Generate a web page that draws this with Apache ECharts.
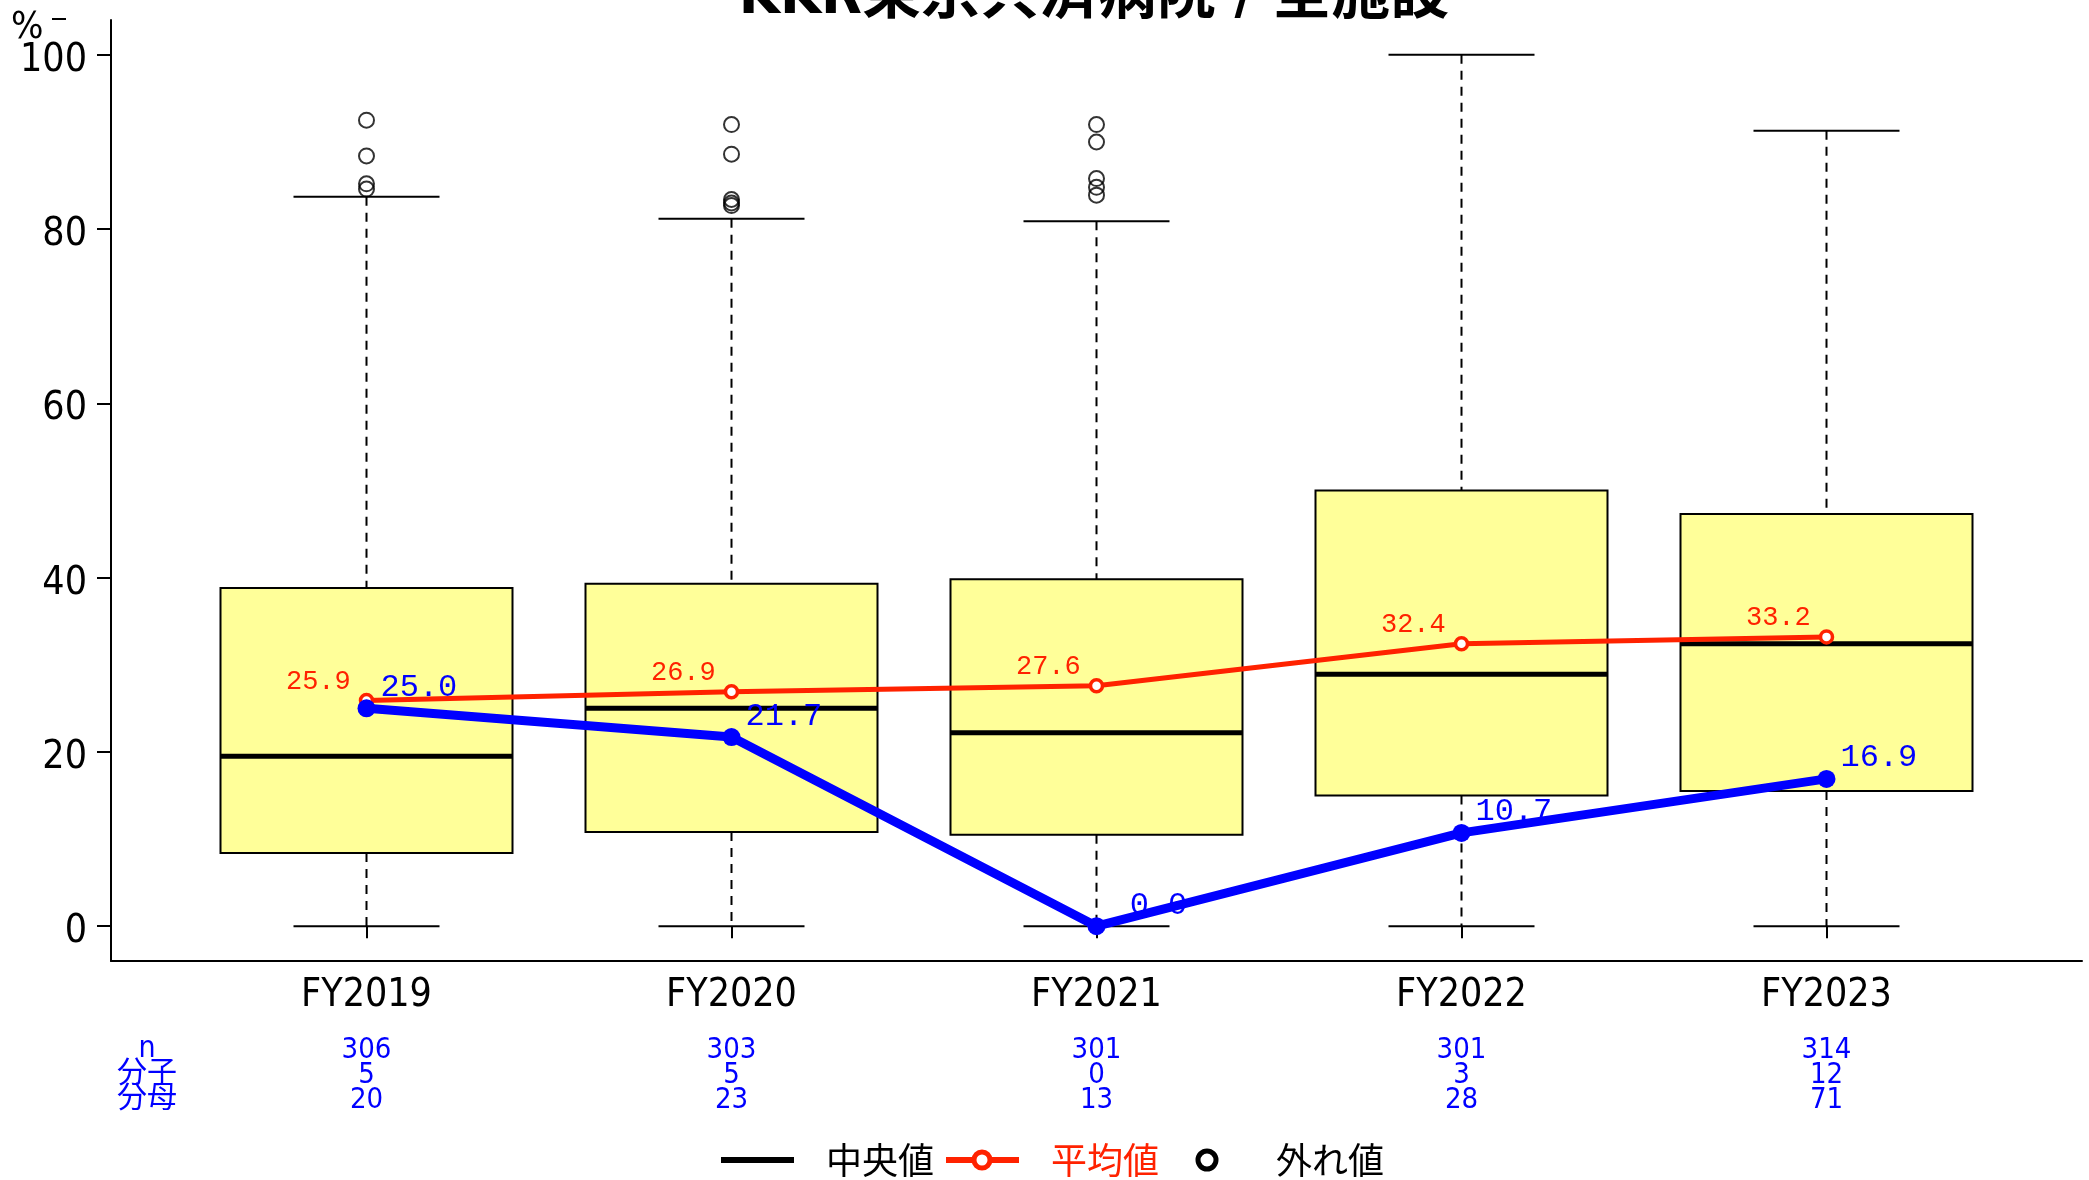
<!DOCTYPE html>
<html>
<head>
<meta charset="utf-8">
<script src="https://cdn.jsdelivr.net/npm/echarts@6/dist/echarts.min.js"></script>
<style>
html,body{margin:0;padding:0;background:#fff;}
#chart{width:2089px;height:1180px;}
</style>
</head>
<body>
<div id="chart"></div>
<script>
// ---- data ----
const categories = ['FY2019', 'FY2020', 'FY2021', 'FY2022', 'FY2023'];
const whiskerLow = [0, 0, 0, 0, 0];
const q1Values = [8.4, 10.8, 10.5, 15.0, 15.5];
const medianValues = [19.5, 25.0, 22.2, 28.9, 32.4];
const q3Values = [38.8, 39.3, 39.8, 50.0, 47.3];
const whiskerHigh = [83.7, 81.2, 80.9, 100, 91.3];
const outlierValues = [
  [92.5, 88.4, 85.2, 84.6],
  [92.0, 88.6, 83.4, 83.0, 82.7],
  [92.0, 90.0, 85.8, 84.8, 83.9],
  [],
  []
];
const meanValues = [25.9, 26.9, 27.6, 32.4, 33.2];
const rateValues = [25.0, 21.7, 0.0, 10.7, 16.9];
const nValues = [306, 303, 301, 301, 314];
const numeratorValues = [5, 5, 0, 3, 12];
const denominatorValues = [20, 23, 13, 28, 71];
const yTickValues = [0, 20, 40, 60, 80, 100];
const titleText = 'KKR東京共済病院 / 全施設';
const tableRowLabels = ['n', '分子', '分母'];
const legendLabels = ['中央値', '平均値', '外れ値'];

// ---- styles ----
const narrow = "'Liberation Sans Narrow','Arial Narrow','DejaVu Sans Condensed','Liberation Sans',sans-serif";
const cjk = "'Noto Sans CJK JP','Noto Sans CJK SC',sans-serif";
const mono = "'Liberation Mono','DejaVu Sans Mono',monospace";
const RED = '#FF2200';
const BLUE = '#0000FF';

const boxData = categories.map((c, i) => [i, whiskerLow[i], q1Values[i], medianValues[i], q3Values[i], whiskerHigh[i]]);
const outlierData = [];
outlierValues.forEach((arr, i) => arr.forEach(v => outlierData.push([i, v])));

const chart = echarts.init(document.getElementById('chart'), null, {renderer: 'canvas'});

function renderBox(params, api) {
  const i = api.value(0);
  const lo = api.coord([i, api.value(1)]);
  const b1 = api.coord([i, api.value(2)]);
  const md = api.coord([i, api.value(3)]);
  const b3 = api.coord([i, api.value(4)]);
  const hi = api.coord([i, api.value(5)]);
  const band = api.size([1, 0])[0];
  const bw = band * 0.8;
  const cw = bw / 2;
  const x = lo[0];
  const dash = {stroke: '#000', lineWidth: 2, lineDash: [9, 7]};
  const solid = {stroke: '#000', lineWidth: 2};
  return {
    type: 'group',
    children: [
      {type: 'line', shape: {x1: x, y1: hi[1], x2: x, y2: b3[1]}, style: dash},
      {type: 'line', shape: {x1: x, y1: b1[1], x2: x, y2: lo[1]}, style: dash},
      {type: 'line', shape: {x1: x - cw / 2, y1: hi[1], x2: x + cw / 2, y2: hi[1]}, style: solid},
      {type: 'line', shape: {x1: x - cw / 2, y1: lo[1], x2: x + cw / 2, y2: lo[1]}, style: solid},
      {type: 'rect', shape: {x: x - bw / 2, y: b3[1], width: bw, height: b1[1] - b3[1]},
        style: {fill: '#FFFF99', stroke: '#000', lineWidth: 2}},
      {type: 'line', shape: {x1: x - bw / 2, y1: md[1], x2: x + bw / 2, y2: md[1]},
        style: {stroke: '#000', lineWidth: 5}}
    ]
  };
}

const legendY = 1160;
const option = {
  animation: false,
  backgroundColor: '#fff',
  grid: [
    {left: 111, right: 7, top: 20, bottom: 219},
    {left: 184, right: 80, top: 20, bottom: 219}
  ],
  xAxis: [
    {gridIndex: 0, type: 'value', min: 0, max: 1,
      axisLine: {show: true, onZero: false, lineStyle: {color: '#000', width: 2}},
      axisTick: {show: false}, axisLabel: {show: false}, splitLine: {show: false}},
    {gridIndex: 1, type: 'category', data: categories,
      axisLine: {show: false},
      axisTick: {show: true, alignWithLabel: true, length: 12, lineStyle: {color: '#000', width: 2}},
      axisLabel: {fontSize: 39, fontFamily: narrow, color: '#000', margin: 15},
      splitLine: {show: false}},
    {gridIndex: 1, type: 'category', data: categories, position: 'bottom',
      axisLine: {show: false}, axisTick: {show: false},
      axisLabel: {
        margin: 77, color: BLUE, fontSize: 29, lineHeight: 25, fontFamily: narrow,
        formatter: (v, i) => nValues[i] + '\n' + numeratorValues[i] + '\n' + denominatorValues[i]
      },
      splitLine: {show: false}}
  ],
  yAxis: [
    {gridIndex: 0, type: 'value', min: -4, max: 104,
      axisLine: {show: true, onZero: false, lineStyle: {color: '#000', width: 2}},
      axisTick: {show: true, length: 14, customValues: yTickValues, lineStyle: {color: '#000', width: 2}},
      axisLabel: {customValues: yTickValues, color: '#000', margin: 24,
        formatter: v => '{t|' + v + '}',
        rich: {t: {fontSize: 39, fontFamily: narrow, color: '#000', padding: [12, 0, 0, 0]}}},
      splitLine: {show: false}},
    {gridIndex: 1, type: 'value', min: -4, max: 104, show: false}
  ],
  series: [
    {type: 'custom', name: 'box', xAxisIndex: 1, yAxisIndex: 1, z: 2,
      renderItem: renderBox, data: boxData,
      encode: {x: 0, y: [1, 2, 3, 4, 5]}},
    {type: 'scatter', name: '外れ値', xAxisIndex: 1, yAxisIndex: 1, z: 3,
      symbol: 'circle', symbolSize: 15, data: outlierData,
      itemStyle: {color: 'rgba(0,0,0,0)', borderColor: '#000', borderWidth: 2}},
    {type: 'line', name: '平均値', xAxisIndex: 1, yAxisIndex: 1, z: 4,
      data: meanValues, symbol: 'circle', symbolSize: 12,
      lineStyle: {color: RED, width: 5},
      itemStyle: {color: '#fff', borderColor: RED, borderWidth: 3.5},
      label: {show: true, position: 'left', distance: 8, offset: [0, -19],
        formatter: p => p.value.toFixed(1), color: RED, fontSize: 27, fontFamily: mono}},
    {type: 'line', name: 'rate', xAxisIndex: 1, yAxisIndex: 1, z: 5,
      data: rateValues, symbol: 'circle', symbolSize: 18,
      lineStyle: {color: BLUE, width: 9},
      itemStyle: {color: BLUE},
      label: {show: true, position: 'right', distance: 5, offset: [0, -21],
        formatter: p => p.value.toFixed(1).padStart(4, ' '), color: BLUE, fontSize: 32, fontFamily: mono}}
  ],
  graphic: [
    {type: 'text', x: 1094, y: 27, style: {text: titleText, fill: '#000',
      font: 'bold 59px ' + "'Liberation Sans Narrow','DejaVu Sans Condensed','Noto Sans CJK JP',sans-serif",
      textAlign: 'center', textVerticalAlign: 'bottom'}},
    {type: 'text', x: 11, y: 28, style: {text: '%', fill: '#000', font: '38px ' + narrow,
      textAlign: 'left', textVerticalAlign: 'middle'}},
    {type: 'line', shape: {x1: 52, y1: 19, x2: 66, y2: 19}, style: {stroke: '#000', lineWidth: 2}},
    {type: 'text', x: 147, y: 1074, style: {text: tableRowLabels.join('\n'), fill: BLUE,
      font: '30px ' + "'Liberation Sans Narrow','DejaVu Sans Condensed','Noto Sans CJK JP',sans-serif", lineHeight: 25,
      textAlign: 'center', textVerticalAlign: 'middle'}},
    // legend
    {type: 'line', shape: {x1: 721, y1: legendY, x2: 794, y2: legendY}, style: {stroke: '#000', lineWidth: 6}},
    {type: 'text', x: 826, y: legendY, style: {text: legendLabels[0], fill: '#000', font: '36px ' + cjk,
      textAlign: 'left', textVerticalAlign: 'middle'}},
    {type: 'line', shape: {x1: 946, y1: legendY, x2: 1019, y2: legendY}, style: {stroke: RED, lineWidth: 6}},
    {type: 'circle', shape: {cx: 982, cy: legendY, r: 8}, style: {fill: '#fff', stroke: RED, lineWidth: 5}},
    {type: 'text', x: 1051, y: legendY, style: {text: legendLabels[1], fill: RED, font: '36px ' + cjk,
      textAlign: 'left', textVerticalAlign: 'middle'}},
    {type: 'circle', shape: {cx: 1207, cy: legendY, r: 9}, style: {fill: '#fff', stroke: '#000', lineWidth: 5}},
    {type: 'text', x: 1276, y: legendY, style: {text: legendLabels[2], fill: '#000', font: '36px ' + cjk,
      textAlign: 'left', textVerticalAlign: 'middle'}}
  ]
};
chart.setOption(option);
</script>
</body>
</html>
